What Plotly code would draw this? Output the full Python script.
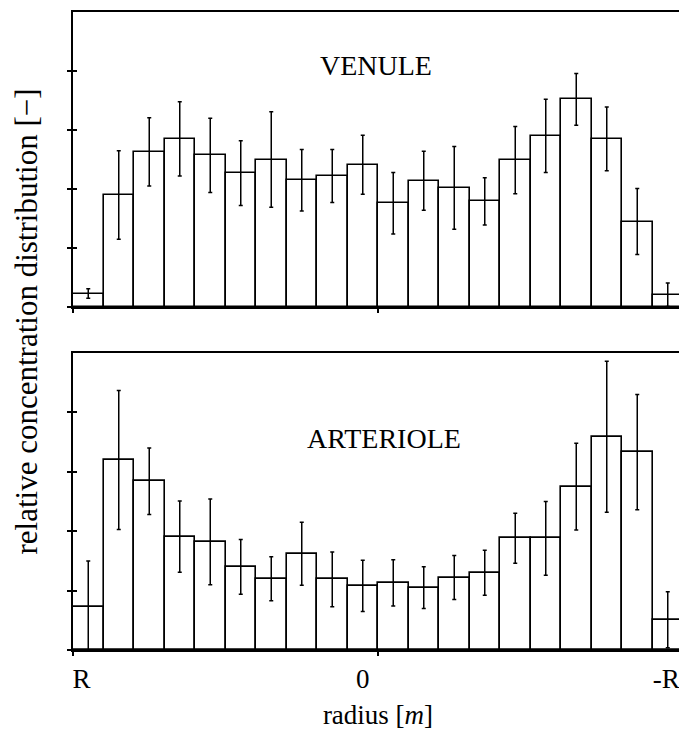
import plotly.graph_objects as go

# ---- data ----
bin_pos = [i + 0.5 for i in range(20)]
tick_pos = [0, 10, 20]
label_pos = [0.28, 9.5, 19.45]
tick_text = ["R", "0", "-R"]

venule = [0.23, 1.90, 2.63, 2.85, 2.57, 2.27, 2.50, 2.15, 2.22, 2.41,
          1.76, 2.14, 2.02, 1.79, 2.49, 2.90, 3.52, 2.85, 1.45, 0.21]
venule_err = [0.08, 0.75, 0.58, 0.63, 0.63, 0.55, 0.81, 0.52, 0.45, 0.50,
              0.52, 0.50, 0.70, 0.40, 0.57, 0.62, 0.44, 0.54, 0.56, 0.20]

arteriole = [0.72, 3.20, 2.84, 1.91, 1.82, 1.40, 1.20, 1.62, 1.19, 1.08,
             1.13, 1.05, 1.22, 1.30, 1.88, 1.88, 2.75, 3.59, 3.33, 0.51]
arteriole_err = [0.78, 1.17, 0.56, 0.60, 0.72, 0.46, 0.37, 0.53, 0.46, 0.43,
                 0.39, 0.35, 0.37, 0.38, 0.42, 0.62, 0.73, 1.27, 0.97, 0.47]

y_ticks = [0, 1, 2, 3, 4]
FONT = "Liberation Serif"

fig = go.Figure()

def add_panel(vals, errs, xa, ya):
    fig.add_trace(go.Bar(
        x=bin_pos, y=vals, width=1.0, xaxis=xa, yaxis=ya,
        marker=dict(color="white", line=dict(color="black", width=1.6)),
        error_y=dict(type="data", array=errs, visible=True,
                     color="black", thickness=1.5, width=2),
        showlegend=False, hoverinfo="skip",
    ))

add_panel(venule, venule_err, "x", "y")
add_panel(arteriole, arteriole_err, "x2", "y2")

axis_common = dict(showgrid=False, zeroline=False, showline=True,
                   linecolor="black", linewidth=1.5, mirror=True)
x_marks = dict(tickvals=tick_pos, ticks="outside", ticklen=4,
               tickcolor="black", tickwidth=1.5, showgrid=False)
y_axis = dict(range=[0, 5], tickvals=y_ticks, showticklabels=False,
              ticks="outside", ticklen=4, tickcolor="black", tickwidth=1.5,
              minor=dict(tickvals=y_ticks, ticks="inside", ticklen=4,
                         tickcolor="black", tickwidth=1.5, showgrid=False),
              **axis_common)

fig.update_layout(
    width=679, height=730,
    paper_bgcolor="white", plot_bgcolor="white",
    margin=dict(l=65, r=3, t=2, b=88),
    font=dict(family=FONT, color="black", size=27),
    bargap=0,
    xaxis=dict(range=[0, 20], domain=[0, 1], anchor="y",
               tickvals=tick_pos, showticklabels=False,
               ticks="outside", ticklen=4, tickcolor="black", tickwidth=1.5,
               **axis_common),
    yaxis=dict(domain=[0.5375, 1.0], anchor="x", **y_axis),
    xaxis2=dict(range=[0, 20], domain=[0, 1], anchor="y2",
                tickvals=label_pos, ticktext=tick_text, ticks="",
                minor=x_marks,
                ticklabelstandoff=4,
                tickfont=dict(family=FONT, size=27),
                title=dict(text="radius [<i>m</i>]",
                           font=dict(family=FONT, size=27), standoff=12),
                **axis_common),
    yaxis2=dict(domain=[0.0, 0.4656], anchor="x2", **y_axis),
)

fig.add_annotation(text="VENULE", xref="x", yref="y", x=9.95, y=4.1,
                   showarrow=False, font=dict(family=FONT, size=28))
fig.add_annotation(text="ARTERIOLE", xref="x2", yref="y2", x=10.2, y=3.56,
                   showarrow=False, font=dict(family=FONT, size=28))
fig.add_annotation(text="relative concentration distribution [\u2212]",
                   xref="paper", yref="paper", x=-0.077, y=0.515,
                   xanchor="center", yanchor="middle", textangle=-90,
                   showarrow=False, font=dict(family=FONT, size=31))

fig.write_html("out.html")
